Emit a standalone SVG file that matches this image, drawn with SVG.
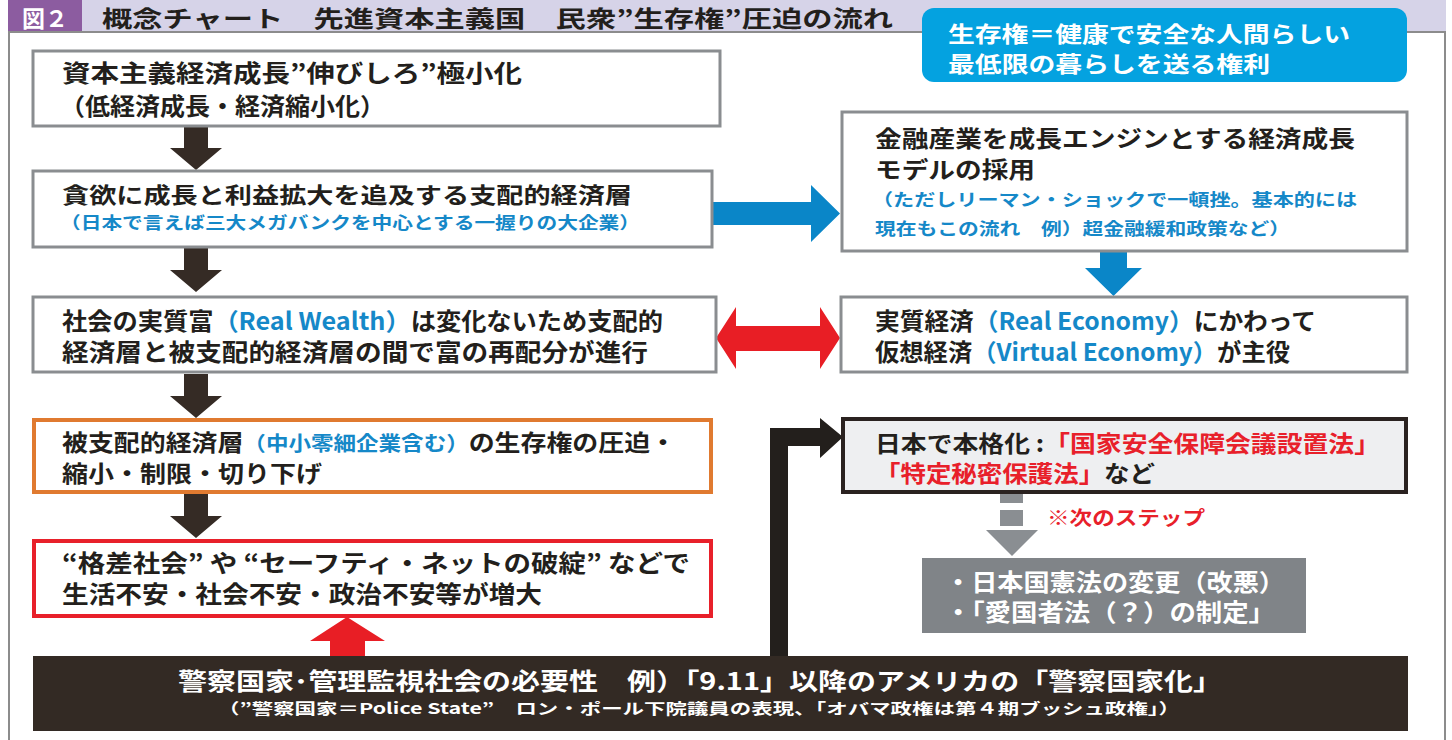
<svg xmlns="http://www.w3.org/2000/svg" width="1452" height="740" viewBox="0 0 1452 740">
<style>
text{font-family:"Noto Sans CJK JP","Noto Sans",sans-serif;font-weight:bold}
.dk{fill:#231f1c}
.bl{fill:#1588c8}
.rd{fill:#e8202a}
.wh{fill:#ffffff}
.box{fill:#ffffff;stroke:#8a8d90;stroke-width:3}
</style>
<defs>
<path id="darr" d="M-12,0 H12 V22 H26 L0,44 L-26,22 H-12 Z"/>
</defs>
<!-- header -->
<rect x="82" y="0" width="1364" height="32" fill="#d6d3e8"/>
<rect x="8" y="0" width="74" height="32" fill="#8c5ca0"/>
<text x="22" y="27" font-size="23" class="wh" textLength="46" lengthAdjust="spacingAndGlyphs">図２</text>
<text x="102" y="27" font-size="23" class="dk" textLength="791" lengthAdjust="spacingAndGlyphs">概念チャート　先進資本主義国　民衆”生存権”圧迫の流れ</text>
<!-- frame -->
<path d="M9,32 V740 M1445,32 V740 M8,32 H1446" fill="none" stroke="#8c8c8c" stroke-width="2"/>

<g id="def-box">
<rect x="922" y="8" width="485" height="74" rx="12" fill="#04a2e0"/>
<text x="948" y="42" font-size="22" class="wh" textLength="402" lengthAdjust="spacingAndGlyphs">生存権＝健康で安全な人間らしい</text>
<text x="948" y="72" font-size="22" class="wh" textLength="322" lengthAdjust="spacingAndGlyphs">最低限の暮らしを送る権利</text>
</g>

<g id="connectors">
<use href="#darr" x="196" y="126" fill="#352b25"/>
<use href="#darr" x="196" y="248" fill="#352b25"/>
<use href="#darr" x="196" y="374" fill="#352b25"/>
<use href="#darr" x="196" y="494" fill="#352b25"/>
<!-- blue right -->
<path d="M713,202 H811 V185 L840,213.5 L811,242 V225 H713 Z" fill="#0a86c8"/>
<!-- blue down -->
<path d="M1100,251 H1127 V268 H1142 L1113.5,296 L1085,268 H1100 Z" fill="#0a86c8"/>
<!-- red double -->
<path d="M716,338 L736,307 V326 H820 V307 L840,338 L820,369 V351 H736 V369 Z" fill="#e81e25"/>
<!-- red up -->
<path d="M347,617 L385,641 H365 V656 H330 V641 H310 Z" fill="#e81e25"/>
<!-- black elbow -->
<path d="M770,656 V428 H820 V418 L843,437 L820,458 V446 H788 V656 Z" fill="#231f1c"/>
<!-- gray dashed -->
<rect x="1000" y="494" width="23" height="9" fill="#8a8e92"/>
<rect x="1000" y="510" width="23" height="16" fill="#8a8e92"/>
<path d="M986,530 H1038 L1012,556 Z" fill="#8a8e92"/>
</g>

<g id="n1">
<rect class="box" x="33" y="51" width="687" height="75"/>
<text x="62" y="82" font-size="24" class="dk" textLength="460" lengthAdjust="spacingAndGlyphs">資本主義経済成長”伸びしろ”極小化</text>
<text x="60" y="115" font-size="24" class="dk" textLength="325" lengthAdjust="spacingAndGlyphs">（低経済成長・経済縮小化）</text>
</g>

<g id="n2">
<rect class="box" x="33" y="171" width="679" height="76"/>
<text x="62" y="203" font-size="22" class="dk" textLength="570" lengthAdjust="spacingAndGlyphs">貪欲に成長と利益拡大を追及する支配的経済層</text>
<text x="60" y="229" font-size="17" class="bl" textLength="580" lengthAdjust="spacingAndGlyphs">（日本で言えば三大メガバンクを中心とする一握りの大企業）</text>
</g>

<g id="n3">
<rect class="box" x="33" y="297" width="683" height="75"/>
<text x="62" y="330" font-size="24" class="dk" textLength="601" lengthAdjust="spacingAndGlyphs">社会の実質富<tspan class="bl">（Real Wealth）</tspan>は変化ないため支配的</text>
<text x="62" y="361" font-size="24" class="dk" textLength="586" lengthAdjust="spacingAndGlyphs">経済層と被支配的経済層の間で富の再配分が進行</text>
</g>

<g id="n4">
<rect x="34" y="420" width="677" height="72" fill="#ffffff" stroke="#e07a30" stroke-width="4"/>
<text x="62" y="451" font-size="23" class="dk" textLength="614" lengthAdjust="spacingAndGlyphs">被支配的経済層<tspan class="bl" font-size="20">（中小零細企業含む）</tspan>の生存権の圧迫・</text>
<text x="62" y="482" font-size="23" class="dk" textLength="260" lengthAdjust="spacingAndGlyphs">縮小・制限・切り下げ</text>
</g>

<g id="n5">
<rect x="34" y="541" width="677" height="75" fill="#ffffff" stroke="#e8202a" stroke-width="4"/>
<text x="62" y="572" font-size="24" class="dk" textLength="628" lengthAdjust="spacingAndGlyphs">“格差社会” や “セーフティ・ネットの破綻” などで</text>
<text x="62" y="603" font-size="24" class="dk" textLength="480" lengthAdjust="spacingAndGlyphs">生活不安・社会不安・政治不安等が増大</text>
</g>

<g id="n6">
<rect class="box" x="842" y="112" width="565" height="139"/>
<text x="875" y="147" font-size="23" class="dk" textLength="480" lengthAdjust="spacingAndGlyphs">金融産業を成長エンジンとする経済成長</text>
<text x="875" y="178" font-size="23" class="dk" textLength="160" lengthAdjust="spacingAndGlyphs">モデルの採用</text>
<text x="872" y="206" font-size="17" class="bl" textLength="485" lengthAdjust="spacingAndGlyphs">（ただしリーマン・ショックで一頓挫。基本的には</text>
<text x="875" y="235" font-size="17" class="bl" textLength="415" lengthAdjust="spacingAndGlyphs">現在もこの流れ　例）超金融緩和政策など）</text>
</g>

<g id="n7">
<rect class="box" x="841" y="297" width="566" height="75"/>
<text x="875" y="330" font-size="24" class="dk" textLength="441" lengthAdjust="spacingAndGlyphs">実質経済<tspan class="bl">（Real Economy）</tspan>にかわって</text>
<text x="875" y="361" font-size="24" class="dk" textLength="415" lengthAdjust="spacingAndGlyphs">仮想経済<tspan class="bl">（Virtual Economy）</tspan>が主役</text>
</g>

<g id="n8">
<rect x="843" y="419" width="563" height="73" fill="#eeeff1" stroke="#2a2220" stroke-width="4"/>
<text x="875" y="452" font-size="23" class="dk" textLength="505" lengthAdjust="spacingAndGlyphs">日本で本格化 :<tspan class="rd">「国家安全保障会議設置法」</tspan></text>
<text x="875" y="482" font-size="23" class="rd" textLength="280" lengthAdjust="spacingAndGlyphs">「特定秘密保護法」<tspan class="dk">など</tspan></text>
</g>

<g id="n9">
<text x="1047" y="525" font-size="19" class="rd" textLength="158" lengthAdjust="spacingAndGlyphs">※次のステップ</text>
</g>

<g id="n10">
<rect x="922" y="558" width="384" height="75" fill="#808488"/>
<text x="945" y="591" font-size="24" class="wh" textLength="340" lengthAdjust="spacingAndGlyphs">・日本国憲法の変更（改悪）</text>
<text x="945" y="621" font-size="24" class="wh" textLength="330" lengthAdjust="spacingAndGlyphs">・「愛国者法（？）の制定」</text>
</g>

<g id="n11">
<rect x="33" y="656" width="1375" height="75" fill="#332a24"/>
<text x="178" y="690" font-size="24" class="wh" textLength="1044" lengthAdjust="spacingAndGlyphs">警察国家･管理監視社会の必要性　例）「9.11」以降のアメリカの「警察国家化」</text>
<text x="218" y="714" font-size="15" class="wh" textLength="962" lengthAdjust="spacingAndGlyphs">（”警察国家＝Police State”　ロン・ポール下院議員の表現、「オバマ政権は第４期ブッシュ政権」）</text>
</g>
</svg>
